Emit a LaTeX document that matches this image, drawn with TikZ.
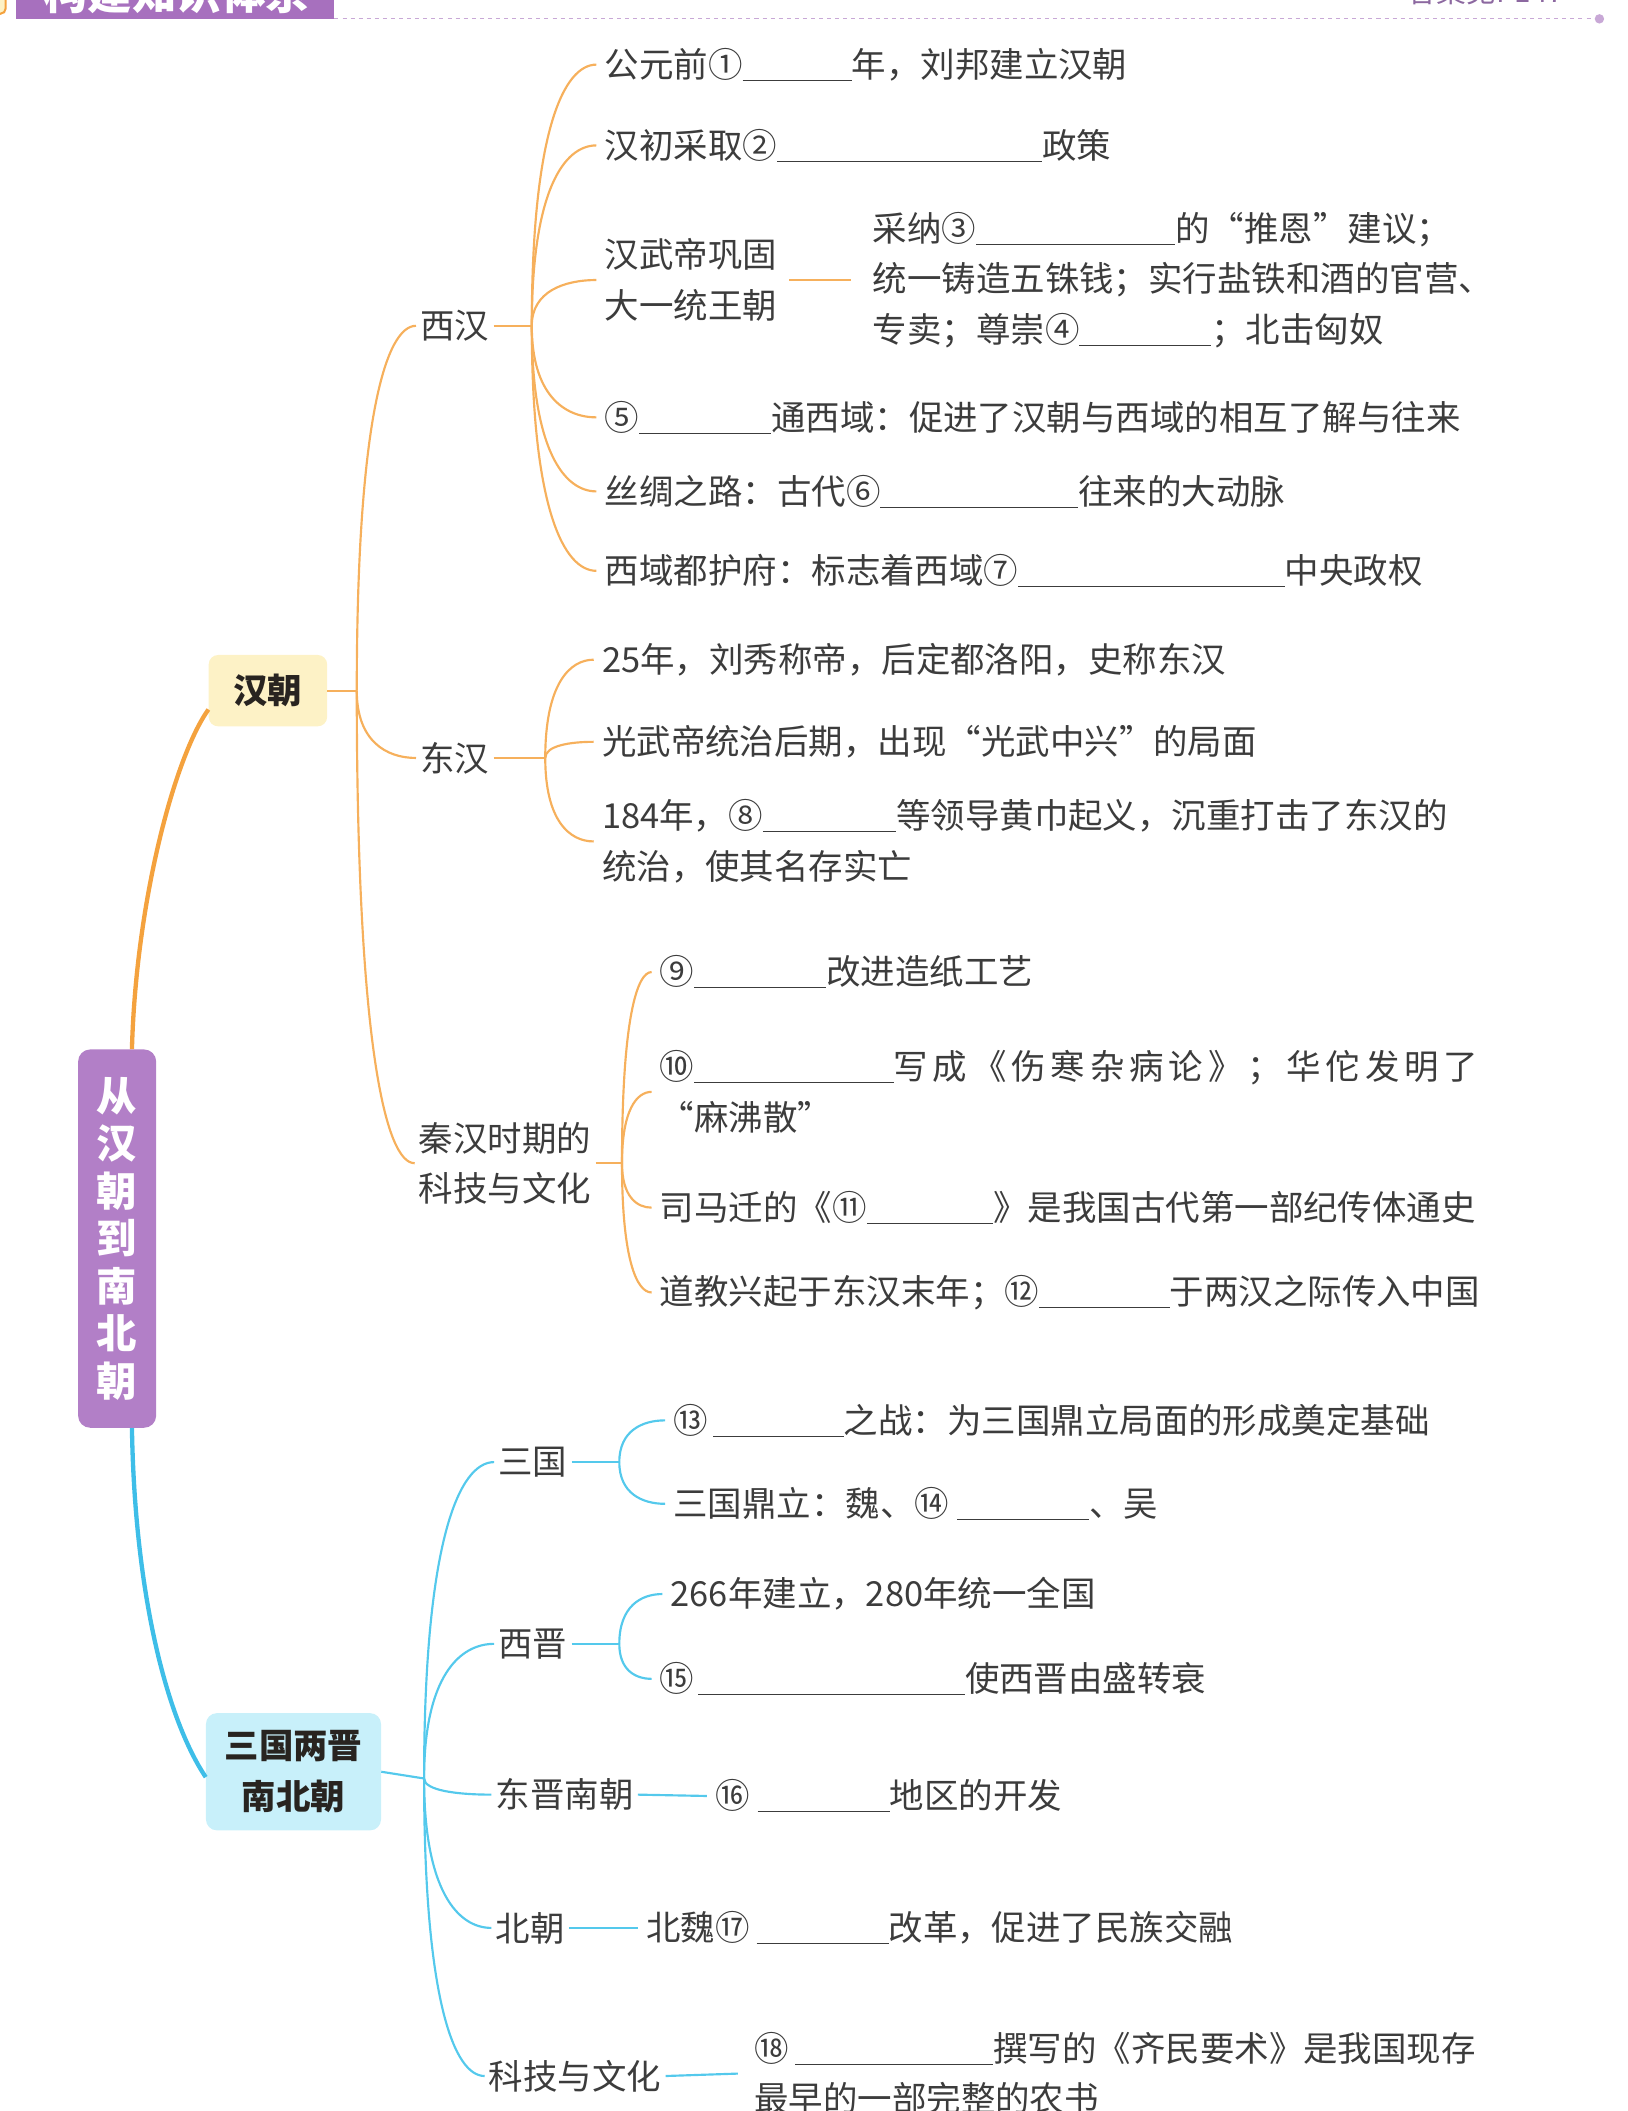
\documentclass[tikz,border=0pt]{standalone}
\usepackage{fontspec}
\setmainfont{Noto Sans CJK SC}
\usepackage{xcolor}
\usepackage{tikz}
\usetikzlibrary{calc}
\definecolor{inkgray}{RGB}{60,60,60}
\definecolor{boxink}{RGB}{40,36,32}
\definecolor{hanorange}{RGB}{246,176,92}
\definecolor{hanorangedeep}{RGB}{244,162,62}
\definecolor{skycyan}{RGB}{84,201,236}
\definecolor{skycyandeep}{RGB}{62,190,232}
\definecolor{rootpurple}{RGB}{178,127,199}
\definecolor{bannerpurple}{RGB}{167,112,190}
\definecolor{hanfill}{RGB}{253,242,198}
\definecolor{sanfill}{RGB}{200,240,250}
\definecolor{dotpurple}{RGB}{200,168,214}
\definecolor{answerpurple}{RGB}{140,104,160}

\newcommand{\fillin}[1]{\rule[-2.5pt]{#1pt}{0.8pt}}
\newcommand{\txtsize}{\fontsize{25.6}{37.5}\selectfont}

\begin{document}
\begin{tikzpicture}[
  x=1pt, y=-1pt,
  leaf/.style={anchor=west, inner xsep=6pt, inner ysep=2pt, align=left, text=inkgray, font=\txtsize},
  topic/.style={anchor=west, inner xsep=3pt, inner ysep=2pt, align=left, text=inkgray, font=\txtsize},
  rootbox/.style={fill=rootpurple, rounded corners=9pt, minimum width=58, minimum height=281, inner sep=0pt, text=white, align=center, font=\fontsize{30}{35.3}\selectfont\bfseries},
  hanbox/.style={fill=hanfill, rounded corners=7pt, minimum width=88, minimum height=53, text=boxink, font=\fontsize{25.6}{30}\selectfont\bfseries},
  sanbox/.style={fill=sanfill, rounded corners=8pt, minimum width=130, minimum height=87, align=center, text=boxink, font=\fontsize{25.6}{38}\selectfont\bfseries},
  hanlink/.style={draw=hanorange, line width=1.6pt},
  sanlink/.style={draw=skycyan, line width=1.6pt},
  twig/.style={to path={.. controls ($(\tikztostart)!#1!(\tikztostart|-\tikztotarget)$) and ($(\tikztostart|-\tikztotarget)!0.5!(\tikztotarget)$) .. (\tikztotarget)}},
  twig/.default=0.75
]
  \useasboundingbox (0,0) rectangle (1209,1568);

  % Header strip, cut by the top edge
  \node[draw=hanorangedeep, fill=hanfill, line width=1.5pt, rounded corners=4pt, minimum width=20, minimum height=28, anchor=south east] (tagicon) at (5,11) {};
  \node[fill=bannerpurple, minimum width=236, minimum height=46, inner sep=0pt, anchor=south west] (banner) at (12,14) {};
  \node[anchor=base west, inner sep=0pt, text=white, font=\fontsize{33}{33}\selectfont\bfseries] (bannertext) at (32,7) {构建知识体系};
  \node[circle, fill=dotpurple, inner sep=0pt, minimum size=7pt] (enddot) at (1188,14) {};
  \draw[dotpurple, line width=0.9pt, dash pattern=on 3pt off 3pt] (banner.south east) -- (enddot.west);
  \node[anchor=base west, inner sep=0pt, text=answerpurple, font=\fontsize{22}{22}\selectfont] (answer) at (1045,2) {答案见P147};

  % Root and the two main boxes
  \node[rootbox] (root) at (87,920) {从\\汉\\朝\\到\\南\\北\\朝};
  \node[hanbox] (han) at (199,513) {汉朝};
  \node[sanbox] (san) at (218,1316) {三国两晋\\南北朝};

  \draw[hanorangedeep, line width=3.2pt] ([xshift=11pt]root.north) .. controls +(3,-110) and +(-25,35) .. ([yshift=-14pt]han.west);
  \draw[skycyandeep, line width=3.2pt] ([xshift=11pt]root.south) .. controls +(2,120) and +(-30,-45) .. ([yshift=-4pt]san.west);

  % Han: second level
  \coordinate (hanJ) at (265,513);
  \node[topic] (xihan) at (309,242) {西汉};
  \node[topic] (donghan) at (309,563) {东汉};
  \node[topic] (qinhan) at (308,864) {秦汉时期的\\科技与文化};

  \draw[hanlink] (han.east) -- (hanJ);
  \draw[hanlink] (hanJ) to[twig] (xihan.west);
  \draw[hanlink] (hanJ) to[twig] (donghan.west);
  \draw[hanlink] (hanJ) to[twig] (qinhan.west);

  % Xihan
  \coordinate (xihanJ) at (395,242);
  \node[leaf] (founding) at (443,48) {公元前①\fillin{81}年，刘邦建立汉朝};
  \node[leaf] (policy) at (443,108) {汉初采取②\fillin{197}政策};
  \node[leaf] (wudi) at (443,208) {汉武帝巩固\\大一统王朝};
  \node[leaf] (wudiDetail) at (642,208) {采纳③\fillin{148}的“推恩”建议；\\统一铸造五铢钱；实行盐铁和酒的官营、\\专卖；尊崇④\fillin{98}；北击匈奴};
  \node[leaf] (xiyu) at (443,310) {⑤\fillin{98}通西域：促进了汉朝与西域的相互了解与往来};
  \node[leaf] (silkroad) at (443,365) {丝绸之路：古代⑥\fillin{147}往来的大动脉};
  \node[leaf] (duhufu) at (443,424) {西域都护府：标志着西域⑦\fillin{198}中央政权};

  \draw[hanlink] (xihan.east) -- (xihanJ);
  \foreach \n in {founding,policy,wudi,xiyu,silkroad,duhufu}
    \draw[hanlink] (xihanJ) to[twig] (\n.west);
  \draw[hanlink, shorten <=3pt, shorten >=10pt] (wudi.east) -- (wudiDetail.west);

  % Donghan
  \coordinate (donghanJ) at (405,563);
  \node[leaf] (liuxiu) at (441,490) {25年，刘秀称帝，后定都洛阳，史称东汉};
  \node[leaf] (zhongxing) at (441,551) {光武帝统治后期，出现“光武中兴”的局面};
  \node[leaf] (huangjin) at (441,625) {184年，⑧\fillin{99}等领导黄巾起义，沉重打击了东汉的\\统治，使其名存实亡};

  \draw[hanlink] (donghan.east) -- (donghanJ);
  \foreach \n in {liuxiu,zhongxing,huangjin}
    \draw[hanlink] (donghanJ) to[twig] (\n.west);

  % Qin-Han science and culture
  \coordinate (qinhanJ) at (462,864);
  \node[leaf] (paper) at (484,722) {⑨\fillin{98}改进造纸工艺};
  \node[leaf] (medicine) at (484,811) {⑩\fillin{148}{\addfontfeature{LetterSpace=14}写成《伤寒杂病论》；华佗发明了}\\“麻沸散”};
  \node[leaf] (shiji) at (484,897) {司马迁的《⑪\fillin{94}》是我国古代第一部纪传体通史};
  \node[leaf] (religion) at (484,960) {道教兴起于东汉末年；⑫\fillin{97}于两汉之际传入中国};

  \draw[hanlink] (qinhan.east) -- (qinhanJ);
  \foreach \n in {paper,medicine,shiji,religion}
    \draw[hanlink] (qinhanJ) to[twig] (\n.west);

  % Three Kingdoms to Southern and Northern dynasties: second level
  \coordinate (sanJ) at (315,1321);
  \node[topic] (sanguo) at (367,1086) {三国};
  \node[topic] (xijin) at (367,1221) {西晋};
  \node[topic] (dongjin) at (365,1333) {东晋南朝};
  \node[topic] (beichao) at (365,1432) {北朝};
  \node[topic] (keji) at (360,1542) {科技与文化};

  \draw[sanlink] (san.east) -- (sanJ);
  \foreach \n in {sanguo,xijin,dongjin,beichao,keji}
    \draw[sanlink] (sanJ) to[twig] (\n.west);

  % Sanguo
  \coordinate (sanguoJ) at (460,1086);
  \node[leaf] (battle) at (494,1055) {⑬\hspace{4pt}\fillin{97}之战：为三国鼎立局面的形成奠定基础};
  \node[leaf] (dingli) at (494,1117) {三国鼎立：魏、⑭\hspace{6pt}\fillin{98}、吴};

  \draw[sanlink] (sanguo.east) -- (sanguoJ);
  \foreach \n in {battle,dingli}
    \draw[sanlink] (sanguoJ) to[twig] (\n.west);

  % Xijin
  \coordinate (xijinJ) at (460,1221);
  \node[leaf] (unify) at (492,1184) {266年建立，280年统一全国};
  \node[leaf] (decline) at (484,1247) {⑮\hspace{3pt}\fillin{198}使西晋由盛转衰};

  \draw[sanlink] (xijin.east) -- (xijinJ);
  \foreach \n in {unify,decline}
    \draw[sanlink] (xijinJ) to[twig] (\n.west);

  % Single children
  \node[leaf] (jiangnan) at (525,1334) {⑯\hspace{6pt}\fillin{98}地区的开发};
  \node[leaf] (reform) at (474,1432) {北魏⑰\hspace{5pt}\fillin{98}改革，促进了民族交融};
  \node[leaf] (nongshu) at (554,1540) {⑱\hspace{5pt}\fillin{147}撰写的《齐民要术》是我国现存\\最早的一部完整的农书};

  \draw[sanlink] (dongjin.east) -- (jiangnan.west);
  \draw[sanlink] (beichao.east) -- (reform.west);
  \draw[sanlink, shorten >=6pt] (keji.east) -- (nongshu.west);

\end{tikzpicture}
\end{document}
